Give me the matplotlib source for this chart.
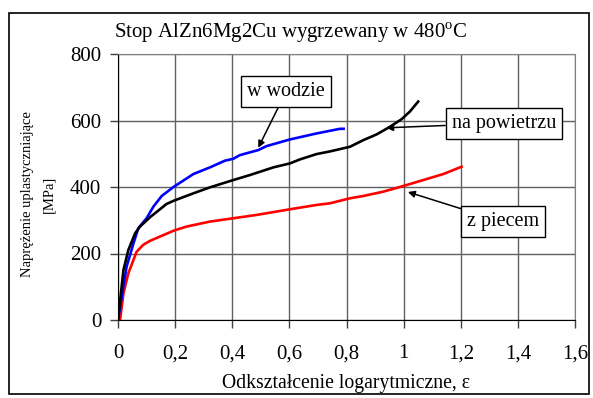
import matplotlib
matplotlib.use("Agg")
import matplotlib.pyplot as plt
from matplotlib.patches import Rectangle
import numpy as np

plt.rcParams['font.family'] = ['Liberation Serif', 'DejaVu Serif']
plt.rcParams['mathtext.fontset'] = 'custom'
plt.rcParams['mathtext.rm'] = 'Liberation Serif'

# data (strain, stress MPa)
eps_woda = [0, 0.013, 0.030, 0.054, 0.071, 0.10, 0.124, 0.153, 0.196, 0.264, 0.322,
            0.374, 0.404, 0.427, 0.491, 0.52, 0.602, 0.695, 0.777, 0.79]
sig_woda = [0, 70, 160, 230, 276, 306, 341, 373, 401, 439, 459,
            479, 485, 496, 511, 523, 543, 561, 575, 575]

eps_pow = [0, 0.019, 0.036, 0.06, 0.077, 0.112, 0.17, 0.196, 0.264, 0.322, 0.404,
           0.462, 0.544, 0.602, 0.637, 0.695, 0.742, 0.812, 0.859, 0.905, 0.952,
           0.993, 1.022, 1.051]
sig_pow = [0, 150, 210, 261, 281, 309, 349, 359, 381, 399, 421,
           436, 459, 471, 483, 499, 507, 521, 541, 558, 581,
           604, 627, 657]

eps_piec = [0, 0.007, 0.019, 0.036, 0.065, 0.088, 0.112, 0.147, 0.196, 0.24, 0.322,
            0.404, 0.485, 0.602, 0.695, 0.742, 0.812, 0.859, 0.929, 0.999, 1.069,
            1.139, 1.203]
sig_piec = [0, 0, 80, 140, 205, 226, 238, 251, 269, 281, 296,
            306, 316, 333, 346, 351, 366, 373, 386, 403, 421,
            439, 461]

x_ticks = [0, 0.2, 0.4, 0.6, 0.8, 1.0, 1.2, 1.4, 1.6]
x_labels = ['0', '0,2', '0,4', '0,6', '0,8', '1', '1,2', '1,4', '1,6']
y_ticks = [0, 200, 400, 600, 800]

W, H = 593, 398
fig = plt.figure(figsize=(W / 100, H / 100), dpi=100)
ax = fig.add_axes([118 / W, 1 - 320 / H, (575 - 118) / W, (320 - 54) / H])

ax.plot(eps_piec, sig_piec, color='#ff0000', lw=1.9)
ax.plot(eps_woda, sig_woda, color='#0000ff', lw=1.9)
ax.plot(eps_pow, sig_pow, color='black', lw=1.9)

ax.set_xlim(0, 1.6)
ax.set_ylim(0, 800)
ax.set_xticks(x_ticks)
ax.set_xticklabels(x_labels)
ax.set_yticks(y_ticks)
ax.grid(True, color='#606060', lw=1.0)
ax.tick_params(direction='out', length=5.5, width=1, labelsize=15, color='#404040')
ax.tick_params(axis='x', pad=12)
ax.tick_params(axis='y', pad=6.5)
for s in ['top', 'right']:
    ax.spines[s].set_color('#808080')
for s in ['left', 'bottom']:
    ax.spines[s].set_color('black')

ax.set_xlabel('Odkształcenie logarytmiczne, ε', fontsize=14.2, labelpad=7.5)
fig.text(38 / W, 1 - 194 / H, 'Naprężenie uplastyczniające\n[MPa]', rotation=90,
         ha='center', va='center', fontsize=10.5, linespacing=1.9)
fig.text(291 / W, 1 - 33 / H, 'Stop AlZn6Mg2Cu wygrzewany w 480$^{\\mathrm{o}}$C',
         ha='center', va='center', fontsize=15)

box = dict(boxstyle='square,pad=0.3', fc='white', ec='black', lw=1)
arrow = dict(arrowstyle='-|>', color='black', lw=1.1, mutation_scale=10, shrinkA=0, shrinkB=0)
ax.annotate('w wodzie', xy=(0.491, 518), xytext=(0.588, 686), fontsize=14.5,
            ha='center', va='center', bbox=box, arrowprops=arrow)
ax.annotate('na powietrzu', xy=(0.939, 578), xytext=(1.351, 592), fontsize=14.5,
            ha='center', va='center', bbox=box, arrowprops=arrow)
ax.annotate('z piecem', xy=(1.015, 385), xytext=(1.348, 295), fontsize=14.5,
            ha='center', va='center', bbox=box, arrowprops=arrow)

fig.patches.append(Rectangle((9 / W, 1 - 394 / H), (589 - 9) / W, (394 - 13) / H,
                             transform=fig.transFigure, fill=False, ec='black', lw=1.2))

fig.savefig('out.png', dpi=100)
